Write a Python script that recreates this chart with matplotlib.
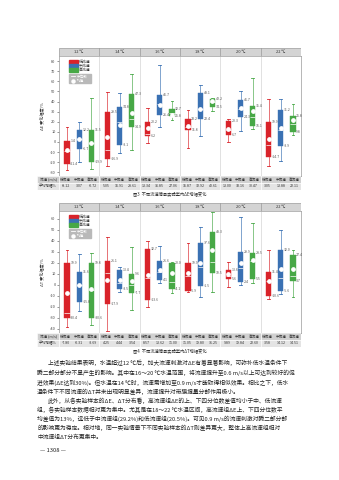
import matplotlib
matplotlib.use("Agg")
import matplotlib.pyplot as plt
from matplotlib.patches import Rectangle
from matplotlib.lines import Line2D

plt.rcParams['font.family'] = ['Noto Sans CJK SC', 'DejaVu Sans']
plt.rcParams['axes.unicode_minus'] = False

W, H = 339, 480

temps = ['12 ℃', '14 ℃', '16 ℃', '18 ℃', '20 ℃', '22 ℃']
speeds = ['低流速', '中流速', '高流速']
colors = ['#d9232a', '#3a71b3', '#47a846']

# (whisker low, Q1, median, Q3, whisker high) for 12..22 ℃
e_low = [(-28, -21.4, -9, 1.4, 15), (-23.8, -16.9, -8, 29.5, 49), (-1.3, 6.2, 8, 20.2, 33.4),
         (-6, 11.8, 15, 23.2, 31.7), (0.3, 6.7, 12, 20.3, 22.8), (-23.8, -14.7, -3, 19.9, 43)]
e_mid = [(-19.5, -6.7, 3, 12.2, 20), (-11, -3.1, 20, 34.8, 48), (14.5, 26.4, 38, 46.7, 76.5),
         (6, 22.4, 33, 48.1, 56), (10.6, 24.3, 33, 41.7, 50), (-18.8, -3.9, 12, 31.2, 43)]
e_high = [(-27, -19.9, -1, 11.5, 44), (-8, 14.9, 23, 47.3, 67), (22, 25.8, 29, 32.7, 40.6),
          (31, 34.5, 40, 42.2, 44), (12.5, 16.1, 25, 35.4, 63), (7, 9.8, 18, 25.8, 37.3)]
e_mean = [[-8.12, 5.05, 13.34, 15.87, 13.00, 3.05],
          [3.07, 16.91, 36.85, 32.92, 33.16, 13.88],
          [-0.72, 28.61, 27.06, 40.61, 30.47, 22.11]]

t_low = [(-38, -30.4, -26, 19.9, 32), (-42, -17.9, 11, 21.1, 43), (-20, -13.6, 5.8, 32.7, 39.7),
         (-6.5, -5.9, 8, 19.9, 38), (-1.8, 5.6, 8, 13.6, 20.3), (-13.3, -10.6, 3, 11.4, 31.5)]
t_mid = [(-23.6, -15.8, 0, 11.6, 27.6), (-6.6, -3.5, 1.5, 13.4, 16.4), (1.2, 4.1, 11.3, 21.6, 35.5),
         (-11.5, -1.5, 16, 37.6, 52.7), (-0.3, 2.4, 15, 29.9, 62), (-8.5, -5.6, 5.8, 32.0, 49.7)]
t_high = [(-37, -30.6, -5, 19.8, 28.5), (-23, -7.7, 0, 9.6, 34), (-7.3, -4.1, 2.5, 20.0, 20.5),
          (-6.6, 10.5, 20.4, 48.3, 66), (1.2, 5.5, 22, 28.5, 55.8), (-11.5, 3.7, 8.2, 27.4, 31.5)]
t_mean = [[-7.80, 4.25, 8.57, 11.05, 9.89, 3.58],
          [-0.31, 4.44, 13.62, 19.80, 19.84, 14.12],
          [-3.69, 3.54, 11.00, 31.25, 22.60, 14.51]]

body = [
    "上述实验结果表明，水温超过12 ℃后，加大流速刺激对ΔE有着显著影响，可弥补低水温条件下",
    "瞬二部分部分不显产生的影响。其中在16～20 ℃水温范围，将流速提升至0.6 m/s以上可达到较好的促",
    "进效果(ΔE达到30%)。但水温在14 ℃时，流速需增加至0.9 m/s才能取得相似效果。相比之下，低水",
    "温条件下不同流速的ΔT并未出现明显差异，流速提升对带膜提量分部作用极小。",
    "此外，从各实验样本的ΔE、ΔT分布看，高流速组ΔE的上、下四分位数差值均小于中、低流速",
    "组，各实验样本数据相对更为集中。尤其是在18～22 ℃水温区间，高流速组ΔE上、下四分位数平",
    "均差值为13%，远低于中流速组(29.2%)和低流速组(20.5%)。可见0.9 m/s的流速刺激对瞬二部分部",
    "的影响更为稳定。相对地，同一实验情景下不同实验样本的ΔT则差异更大，整体上高流速组相对",
    "中流速组ΔT分布更集中。",
]


def rect(x0, y0, x1, y1):
    return [x0 / W, 1 - y1 / H, (x1 - x0) / W, (y1 - y0) / H]


def legend(fig, x, y):
    for k in range(3):
        fig.patches.append(Rectangle((x / W, 1 - (y + 4.3 * (k + 1)) / H), 8.5 / W, 4.3 / H,
                                     transform=fig.transFigure, color=colors[k]))
        fig.text((x + 10) / W, 1 - (y + 4.3 * k + 2.2) / H, speeds[k], fontsize=2.8,
                 va='center', color='#333')
    gy = y + 14.5
    fig.patches.append(Rectangle((x / W, 1 - (gy + 9) / H), 22 / W, 9 / H,
                                 transform=fig.transFigure, color='#b9b9b9'))
    fig.lines.append(Line2D([(x + 1.5) / W, (x + 6) / W], [1 - (gy + 2.3) / H] * 2,
                            transform=fig.transFigure, color='white', lw=0.6))
    fig.lines.append(Line2D([(x + 3.7) / W], [1 - (gy + 6.6) / H], transform=fig.transFigure,
                            marker='o', ms=2.2, color='white', lw=0))
    fig.text((x + 8) / W, 1 - (gy + 2.3) / H, '中位数', fontsize=2.6, va='center', color='white')
    fig.text((x + 8) / W, 1 - (gy + 6.6) / H, '均值', fontsize=2.6, va='center', color='white')


def chart(fig, top, bottom, ylim, yticks, ylabel, groups, means, caption):
    hd = fig.add_axes(rect(59, top - 8, 301, top))
    hd.set_xlim(-0.5, 5.5)
    hd.set_ylim(0, 1)
    hd.axis('off')
    hd.add_patch(Rectangle((-0.5, 0), 6, 1, facecolor='#d4d4d4', edgecolor='#9a9a9a', lw=0.5))
    for i, t in enumerate(temps):
        hd.text(i, 0.5, t, fontsize=2.9, ha='center', va='center', color='#333')
        if i:
            hd.axvline(i - 0.5, color='#9a9a9a', lw=0.5)

    ax = fig.add_axes(rect(59, top, 301, bottom))
    ax.set_xlim(-0.5, 5.5)
    ax.set_ylim(*ylim)
    ax.set_yticks(yticks)
    ax.set_xticks([])
    ax.tick_params(axis='y', labelsize=2.8, length=1.5, width=0.4, pad=1, colors='#444')
    for s in ax.spines.values():
        s.set_color('#9a9a9a')
        s.set_linewidth(0.5)
    for i in range(1, 6):
        ax.axvline(i - 0.5, color='#d5d5d5', lw=0.5)
    ax.set_ylabel(ylabel, fontsize=3, labelpad=3, color='#333')

    offs = [-0.3, 0.0, 0.3]
    for k, data in enumerate(groups):
        stats = []
        for i, (lo, q1, med, q3, hi) in enumerate(data):
            stats.append(dict(whislo=lo, q1=q1, med=med, q3=q3, whishi=hi,
                              mean=means[k][i], fliers=[]))
        pos = [i + offs[k] for i in range(6)]
        c = colors[k]
        ax.bxp(stats, positions=pos, widths=0.13, patch_artist=True, showmeans=True,
               showfliers=False,
               boxprops=dict(facecolor=c, edgecolor=c, lw=0.3),
               whiskerprops=dict(color=c, lw=0.6, alpha=0.75),
               capprops=dict(color=c, lw=0.6),
               medianprops=dict(color='white', lw=0.5),
               meanprops=dict(marker='o', markerfacecolor='white', markeredgecolor='white',
                              markersize=2.4),
               capwidths=0.07, manage_ticks=False)
        for p, (lo, q1, med, q3, hi) in zip(pos, data):
            ax.text(p + 0.08, q3, f'{q3:.1f}', fontsize=2.5, va='center', color='#555')
            ax.text(p + 0.08, q1, f'{q1:.1f}', fontsize=2.5, va='center', color='#555')

    legend(fig, 69, top + 3.5)

    tb = fig.add_axes(rect(37, bottom, 301, bottom + 14))
    tb.set_xlim(-1.045, 5.5)
    tb.set_ylim(0, 2)
    tb.axis('off')
    tb.add_patch(Rectangle((-1.045, 1), 6.545, 1, facecolor='#d0d0d0', edgecolor='white', lw=0.4))
    tb.add_patch(Rectangle((-1.045, 0), 6.545, 1, facecolor='#e4e4e4', edgecolor='white', lw=0.4))
    tb.text(-0.77, 1.5, '流速 (m/s)', fontsize=2.6, ha='center', va='center', color='#333')
    tb.text(-0.77, 0.5, '平均增幅%', fontsize=2.6, ha='center', va='center', color='#333')
    for i in range(6):
        for k in range(3):
            x = i + offs[k] * 1.1
            tb.text(x, 1.5, speeds[k], fontsize=2.6, ha='center', va='center', color='#333')
            tb.text(x, 0.5, f'{means[k][i]:.2f}', fontsize=2.6, ha='center', va='center',
                    color='#333')
        tb.plot([i - 0.5] * 2, [0, 2], color='white', lw=0.5)
    fig.text(170 / W, 1 - (bottom + 19) / H, caption, fontsize=3.1, ha='center', va='center',
             color='#333')


fig = plt.figure(figsize=(W / 100, H / 100), dpi=100)
fig.patch.set_facecolor('white')

chart(fig, 56, 176, (-33.7, 85.1), range(-30, 90, 10), 'ΔE 变化幅度/%',
      [e_low, e_mid, e_high], e_mean, '图3  不同流速情景实验室内ΔE增幅变化')
chart(fig, 211, 333, (-43.9, 67), range(-40, 70, 10), 'ΔT 变化幅度/%',
      [t_low, t_mid, t_high], t_mean, '图4  不同流速情景实验室内ΔT增幅变化')

ys = [363, 373, 383, 392, 401, 410, 419, 428, 437]
for j, (line, y) in enumerate(zip(body, ys)):
    x = 48 if j in (0, 4) else 37
    fig.text(x / W, 1 - y / H, line, fontsize=4.15, va='center', color='#222')

fig.text(40 / W, 1 - 450 / H, '— 1308 —', fontsize=4.2, va='center', color='#222')

fig.savefig('out.png', dpi=100)
